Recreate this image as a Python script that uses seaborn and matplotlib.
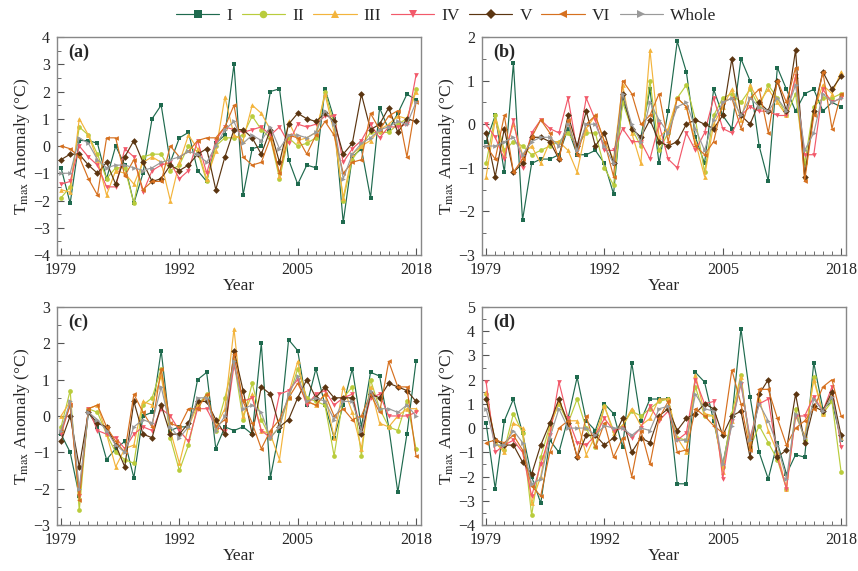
import numpy as np
import pandas as pd
import seaborn as sns
import matplotlib
matplotlib.use("Agg")
import matplotlib.pyplot as plt
from matplotlib.ticker import MultipleLocator, FixedLocator

years = list(range(1979, 2019))
series_names = ["I", "II", "III", "IV", "V", "VI", "Whole"]

# ---- panel (a) ----
a_I = [-0.8,-2.1,0.2,0.2,0.1,-1.2,0.0,-0.7,-2.1,-1.0,1.0,1.5,-0.6,0.3,0.5,-0.9,-1.3,0.1,0.4,3.0,
       -1.8,-0.1,0.0,2.0,2.1,-0.5,-1.4,-0.7,-0.8,2.1,1.0,-2.8,-0.4,-0.1,-1.9,1.4,0.6,1.2,1.9,1.7]
a_II = [-1.9,-1.5,0.7,0.4,-0.3,-1.2,-0.8,-0.8,-2.1,-0.4,-0.3,-0.3,-0.9,-0.7,0.0,-0.2,-1.3,0.0,0.3,0.3,
        0.4,1.1,0.6,0.3,-1.2,0.3,0.0,0.1,0.3,2.0,0.8,-2.0,-0.5,0.0,0.5,0.5,0.5,0.8,1.0,2.1]
a_III = [-1.6,-1.7,1.0,0.4,-0.5,-1.8,-0.9,-1.0,-1.4,-0.6,-0.4,-0.6,-2.0,-0.6,0.4,-0.1,-1.2,-0.2,1.8,0.4,
         0.2,1.5,1.2,0.6,-1.1,0.9,0.2,0.3,0.5,1.9,0.5,-1.9,-0.3,0.0,0.2,0.6,0.8,1.1,1.0,2.0]
a_IV = [-1.4,-1.3,0.0,-0.4,-0.7,-1.5,-1.5,-0.1,-0.4,-1.7,-0.9,-0.7,-0.6,-1.2,-0.9,0.2,-1.0,0.2,0.7,0.6,
        0.5,0.6,0.7,0.4,0.7,0.1,0.8,0.7,0.8,1.1,1.1,-0.6,-0.1,0.2,0.8,0.3,0.7,0.7,0.8,2.6]
a_V = [-0.5,-0.3,-0.3,-0.7,-1.0,-0.6,-1.4,-0.4,0.2,-0.6,-1.3,-1.2,-0.7,-0.9,-0.7,-0.3,-0.1,-1.6,-0.4,0.6,
       0.6,0.3,-0.3,0.6,-0.6,0.8,1.2,1.0,0.9,1.2,0.9,-0.3,0.1,1.9,0.6,0.8,1.4,0.5,1.0,0.9]
a_VI = [0.0,-0.1,-0.4,-1.2,-1.8,0.3,0.3,-1.1,-0.5,-1.6,-1.3,-1.3,0.0,-0.4,-0.2,0.2,0.3,0.3,0.7,1.5,
        -0.4,-0.7,-0.6,0.3,-1.0,0.4,0.3,-0.3,0.4,0.9,0.4,-1.0,-0.6,-0.5,1.2,0.6,1.1,1.3,-0.4,1.6]
a_Whole = [-1.0,-1.0,0.3,0.1,-0.5,-0.8,-0.7,-0.7,-0.8,-0.9,-0.8,-0.6,-0.5,-0.4,-0.2,-0.3,-0.6,0.0,0.6,0.9,
           0.1,0.4,0.2,0.7,-0.1,0.4,0.4,0.3,0.5,1.3,0.8,-1.2,-0.3,0.1,0.3,0.6,0.7,0.9,0.8,1.6]

# ---- panel (b) ----
b_I = [-0.4,0.2,-1.1,1.4,-2.2,-0.9,-0.8,-0.8,-0.7,-0.1,-0.7,-0.7,-0.6,-0.9,-1.6,0.6,-0.1,-0.3,0.8,-0.9,
       0.3,1.9,1.2,-0.3,-0.9,0.8,0.2,-0.1,1.5,1.0,-0.5,-1.3,1.3,0.8,0.3,0.7,0.8,0.3,0.5,0.4]
b_II = [-0.9,0.2,-0.6,-0.4,-0.5,-0.7,-0.6,-0.5,-0.4,-0.2,-0.5,-0.2,-0.2,-1.0,-1.4,0.5,-0.1,-0.5,1.0,-0.6,
        -0.2,0.6,0.9,0.1,-1.1,0.2,0.6,0.7,0.5,0.8,0.4,0.9,0.6,0.2,0.7,-0.9,0.4,0.6,0.6,0.7]
b_III = [-1.2,0.1,-0.7,0.0,-0.7,-0.5,-0.9,-0.4,-0.4,-0.6,-1.1,-0.1,0.2,-0.4,-0.8,0.9,-0.2,-0.9,1.7,-0.3,
         -0.1,0.6,0.4,-0.4,-1.2,0.0,0.4,0.8,0.1,0.9,0.5,0.8,0.5,0.2,1.1,-1.2,0.3,0.9,0.7,1.2]
b_IV = [0.0,-0.3,-0.8,0.1,-1.0,-0.2,0.1,-0.1,-0.2,0.6,-0.6,0.6,0.1,-0.6,-0.6,-0.1,-0.4,-0.4,-0.8,0.0,
        -0.8,-1.0,-0.2,-0.6,-0.2,0.6,-0.1,-0.2,0.2,0.4,0.3,0.3,0.2,0.2,1.1,-0.7,-0.7,0.8,0.5,0.6]
b_V = [-0.2,-1.2,-0.1,-1.1,-0.9,-0.3,-0.3,-0.4,-0.8,0.2,-0.5,0.3,-0.5,-0.2,-0.9,0.7,-0.1,-0.3,0.1,-0.4,
       -0.5,-0.4,0.0,0.1,0.0,-0.1,0.2,1.5,0.2,0.0,0.5,0.3,1.0,0.3,1.7,-1.2,0.3,1.2,0.8,1.1]
b_VI = [-0.5,-0.8,0.2,-1.1,-0.8,-0.3,0.1,-0.2,-0.8,0.1,-0.7,0.0,0.2,-0.4,-1.2,1.0,0.7,0.0,0.2,0.7,
        -0.4,0.6,0.4,-0.5,-0.7,-0.4,0.5,0.6,-0.1,0.6,0.8,-0.2,1.0,0.5,1.3,-1.3,0.2,1.2,-0.1,0.7]
b_Whole = [-0.5,-0.5,-0.4,-0.3,-0.7,-0.4,-0.3,-0.3,-0.5,0.0,-0.6,0.0,0.0,-0.5,-0.9,0.7,0.0,-0.4,0.5,0.1,
           -0.2,0.4,0.5,-0.1,-0.6,0.1,0.5,0.6,0.2,0.6,0.4,0.3,0.6,0.3,0.9,-0.6,-0.2,0.7,0.5,0.6]

# ---- panel (c) ----
c_I = [-0.5,-1.0,-2.2,0.1,-0.3,-1.2,-0.9,-0.7,-1.7,0.0,0.1,1.8,-0.4,-0.3,-0.3,1.0,1.2,-0.9,-0.3,-0.4,
       -0.3,-0.5,2.0,-1.7,-0.4,2.1,1.8,0.3,1.3,0.3,-0.6,0.3,1.3,-0.3,1.2,1.1,-0.3,-2.1,-0.5,1.5]
c_II = [-0.3,0.7,-2.6,0.2,0.1,-0.5,-1.0,-1.2,-1.3,0.3,0.5,1.3,-0.6,-1.5,-0.8,0.3,0.6,-0.4,0.5,1.5,
        -0.1,0.9,-0.1,-0.6,-0.3,0.5,1.3,0.5,0.4,0.3,-1.1,0.5,0.8,-1.1,1.0,0.2,-0.3,-0.4,0.4,-0.9]
c_III = [0.0,0.4,-2.1,0.2,0.3,-0.5,-1.4,-0.9,-0.8,0.4,0.3,1.1,-0.4,-1.3,-0.3,0.3,0.5,-0.3,0.2,2.4,
         0.0,0.6,-0.4,-0.5,-1.2,0.6,1.5,0.4,0.3,0.6,-0.6,0.8,0.1,-0.9,0.8,-0.2,-0.3,0.0,0.2,0.2]
c_IV = [-0.5,0.3,-2.2,0.2,-0.4,-0.5,-0.6,-0.9,-0.5,-0.3,-0.4,0.2,0.0,-0.4,-0.7,0.2,0.2,-0.3,-0.4,1.4,
        0.4,0.5,-0.4,-0.6,0.6,0.7,1.0,0.3,0.6,0.7,0.3,0.5,0.6,-0.5,0.5,0.6,0.0,0.0,0.0,0.1]
c_V = [-0.7,0.0,-1.4,0.1,-0.2,-0.3,-0.8,-1.4,0.4,-0.5,-0.6,0.3,-0.5,-0.5,-0.2,0.4,0.4,-0.1,-0.5,1.8,
       0.7,-0.5,0.8,0.6,-0.3,-0.1,0.5,1.0,0.5,0.8,0.5,0.5,0.5,-0.5,0.6,0.5,0.9,0.8,0.7,0.4]
c_VI = [-0.4,0.3,-2.3,0.2,0.3,-0.3,-0.7,-1.0,0.6,0.1,-0.3,1.3,-0.2,-0.3,0.2,0.2,0.6,-0.3,-0.1,1.7,
        0.4,-0.2,-0.9,-0.4,-0.1,0.5,0.9,0.4,0.3,0.6,0.0,0.2,-0.1,0.0,0.6,0.1,1.5,0.8,0.8,-1.1]
c_Whole = [-0.4,0.4,-2.0,0.1,-0.1,-0.4,-0.8,-1.0,-0.3,-0.1,-0.2,0.8,-0.3,-0.6,-0.3,0.5,0.5,-0.4,0.0,1.5,
           0.2,0.3,0.1,-0.6,-0.3,0.6,1.1,0.4,0.5,0.4,-0.1,0.4,0.4,-0.4,0.7,0.2,0.2,0.1,0.3,0.0]

# ---- panel (d) ----
d_I = [0.2,-2.5,0.3,1.2,-0.2,-2.0,-3.1,-0.5,-1.0,0.4,2.1,0.3,-0.1,1.0,0.6,-0.8,2.7,0.3,1.2,1.2,
       1.2,-2.3,-2.3,2.3,1.9,0.3,-1.5,0.4,4.1,1.3,-1.0,-2.1,-0.6,-1.9,-1.1,-1.2,2.7,0.8,1.1,-0.5]
d_II = [1.4,-0.6,-0.9,0.6,-0.2,-3.6,-1.2,0.1,1.0,0.2,1.2,0.0,-0.8,0.9,-0.1,0.1,0.7,0.5,0.8,1.1,
        1.2,-0.4,-0.5,1.7,0.5,0.5,-1.6,0.6,2.2,-0.8,0.1,-0.6,-1.3,-2.5,0.8,-0.5,2.1,0.6,1.1,-1.8]
d_III = [1.5,-0.6,-1.0,0.2,0.0,-3.1,-2.0,0.0,1.1,0.3,0.3,-1.1,-0.3,0.9,-0.2,0.1,0.8,0.1,0.4,1.2,
         1.2,-0.4,-1.0,2.2,0.6,0.5,-1.8,0.3,2.1,-0.7,1.2,-0.1,-1.0,-2.5,0.5,-0.3,2.0,0.6,1.4,-0.4]
d_IV = [1.9,-1.0,-0.7,-0.5,-1.0,-2.8,-1.5,-0.3,1.9,0.4,-0.6,-0.7,-0.3,0.4,-0.1,0.0,-0.4,0.0,0.9,0.3,
        0.7,-0.5,-0.2,2.0,1.0,1.1,-2.1,0.3,1.8,-0.4,1.0,1.2,-1.2,-2.5,0.5,0.5,1.3,0.7,1.7,-0.8]
d_V = [1.2,-0.5,-0.7,-0.7,-1.4,-1.9,-0.7,0.2,1.2,0.2,-1.2,-0.3,-0.3,-0.7,-0.4,0.4,-1.0,-0.4,-0.6,0.5,
       0.8,-0.1,0.4,0.6,1.0,0.8,-0.3,0.5,0.7,-1.2,1.4,2.0,-1.2,-0.9,1.4,-0.6,0.9,0.7,1.5,-0.3]
d_VI = [-0.6,-0.5,-0.6,-0.3,-0.9,-2.4,-2.8,-1.0,0.0,0.3,-1.2,0.5,-0.8,0.2,-1.2,-0.4,-2.0,-0.1,-1.5,0.4,
        1.1,-1.0,-0.9,0.8,0.5,0.1,-0.2,2.4,1.0,-0.9,1.6,1.6,0.4,-0.7,0.0,0.3,0.8,1.7,2.0,0.5]
d_Whole = [0.8,-0.7,-0.7,-0.1,-0.6,-2.3,-2.1,-0.4,0.8,0.0,0.0,0.0,-0.3,0.1,0.0,0.0,-0.3,0.0,-0.1,0.8,
           0.9,-0.5,-0.5,1.4,0.8,0.7,-1.5,0.1,1.9,-0.5,1.0,0.3,-0.7,-2.1,0.6,-0.4,1.2,0.7,1.3,-0.5]

panel_labels = ["(a)", "(b)", "(c)", "(d)"]
panel_ylims = [(-4, 4), (-3, 2), (-3, 3), (-4, 5)]
xtick_labels = [1979, 1992, 2005, 2018]

panels = [
    [a_I, a_II, a_III, a_IV, a_V, a_VI, a_Whole],
    [b_I, b_II, b_III, b_IV, b_V, b_VI, b_Whole],
    [c_I, c_II, c_III, c_IV, c_V, c_VI, c_Whole],
    [d_I, d_II, d_III, d_IV, d_V, d_VI, d_Whole],
]

colors = {"I": "#1f6a4e", "II": "#b9cc3c", "III": "#f3b43c", "IV": "#f2596a",
          "V": "#5b3511", "VI": "#d6701f", "Whole": "#9a9a9a"}
markers = {"I": "s", "II": "o", "III": "^", "IV": "v", "V": "D", "VI": "<", "Whole": ">"}

sns.set_style("ticks")
plt.rcParams["font.family"] = ["Liberation Serif", "DejaVu Serif"]
plt.rcParams["mathtext.fontset"] = "stix"

fig = plt.figure(figsize=(8.58, 5.71), dpi=100)
positions = [
    [0.0664, 0.5534, 0.4243, 0.3818],
    [0.5618, 0.5534, 0.4243, 0.3818],
    [0.0664, 0.0806, 0.4243, 0.3818],
    [0.5618, 0.0806, 0.4243, 0.3818],
]

handles = None
for k, (pos, vals) in enumerate(zip(positions, panels)):
    ax = fig.add_axes(pos)
    rows = []
    for name, v in zip(series_names, vals):
        for yr, val in zip(years, v):
            rows.append({"Year": yr, "Anomaly": val, "Series": name})
    df = pd.DataFrame(rows)
    sns.lineplot(data=df, x="Year", y="Anomaly", hue="Series", style="Series",
                 hue_order=series_names, style_order=series_names,
                 palette=colors, markers=markers, dashes=False,
                 linewidth=0.85, markersize=3.4, markeredgewidth=0,
                 ax=ax, legend=(k == 0))
    if k == 0:
        handles, labels = ax.get_legend_handles_labels()
        ax.get_legend().remove()
    ax.set_xlim(1978.55, 2018.55)
    ax.set_ylim(*panel_ylims[k])
    ax.xaxis.set_major_locator(FixedLocator(xtick_labels))
    ax.xaxis.set_minor_locator(MultipleLocator(1))
    ax.yaxis.set_major_locator(MultipleLocator(1))
    ax.yaxis.set_minor_locator(MultipleLocator(0.5))
    ax.tick_params(which="both", direction="in", top=False, right=False,
                   labelsize=11.5, color="#555555")
    ax.tick_params(axis="x", which="major", pad=5)
    ax.tick_params(axis="y", which="major", pad=5)
    ax.tick_params(which="major", length=5, width=0.8)
    ax.tick_params(which="minor", length=3, width=0.6)
    for sp in ax.spines.values():
        sp.set_color("#888888")
        sp.set_linewidth(1.0)
    ax.set_xlabel("Year", fontsize=12.5, labelpad=0)
    ax.set_ylabel(r"T$_{\mathrm{max}}$ Anomaly (°C)", fontsize=12.5, labelpad=1)
    ax.text(0.03, 0.93, panel_labels[k], transform=ax.transAxes,
            fontsize=13, fontweight="bold", va="center", ha="left")

fig.legend(handles, labels, loc="center", bbox_to_anchor=(0.52, 0.972), ncol=7,
           frameon=False, fontsize=12.5, handlelength=2.5, columnspacing=0.55,
           handletextpad=0.4, markerscale=1.6)

fig.savefig("out.png", dpi=100)
